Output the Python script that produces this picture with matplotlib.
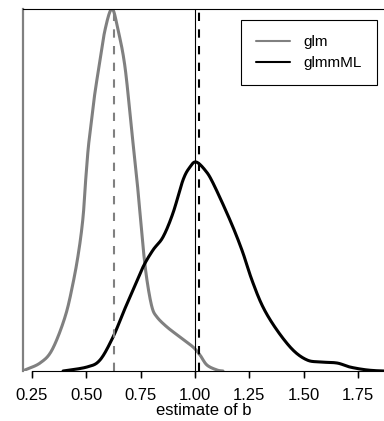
import numpy as np
import matplotlib
matplotlib.use("Agg")
import matplotlib.pyplot as plt
import matplotlib.transforms as mtransforms

plt.rcParams['font.family'] = ['Liberation Sans', 'DejaVu Sans']

# density curves (x = estimate of b, y = density)
glm_x = [0.213, 0.218, 0.287, 0.342, 0.402, 0.439, 0.466, 0.485, 0.496, 0.508,
         0.517, 0.535, 0.558, 0.586, 0.618, 0.646, 0.678, 0.710, 0.733, 0.747,
         0.761, 0.779, 0.802, 0.825, 0.871, 0.931, 0.991, 1.023, 1.055, 1.101,
         1.129]
glm_y = [0.0, 0.014, 0.108, 0.284, 0.731, 1.191, 1.638, 2.084, 2.545, 2.991,
         3.222, 3.668, 4.115, 4.616, 4.9, 4.616, 4.115, 3.222, 2.585, 2.139,
         1.678, 1.232, 0.866, 0.731, 0.596, 0.460, 0.325, 0.217, 0.081, 0.014,
         0.0]

glmm_x = [0.393, 0.503, 0.563, 0.623, 0.669, 0.715, 0.761, 0.807, 0.853, 0.899,
          0.945, 0.977, 1.005, 1.046, 1.083, 1.161, 1.216, 1.262, 1.313, 1.377,
          1.451, 1.516, 1.575, 1.654, 1.713, 1.792, 1.870, 1.95]
glmm_y = [0.0, 0.054, 0.149, 0.460, 0.785, 1.096, 1.408, 1.638, 1.814, 2.139,
          2.585, 2.761, 2.829, 2.721, 2.545, 2.044, 1.638, 1.232, 0.866, 0.555,
          0.284, 0.149, 0.122, 0.108, 0.054, 0.014, 0.0, 0.0]

glm_mean = 0.627
glmm_mean = 1.02
true_b = 1.0

tick_vals = [0.25, 0.50, 0.75, 1.00, 1.25, 1.50, 1.75]


def smooth(x, y, n=20):
    # Catmull-Rom through the read points, only for drawing
    p = np.column_stack([x, y])
    p = np.vstack([p[0], p, p[-1]])
    out = []
    t = np.linspace(0, 1, n, endpoint=False)[:, None]
    for i in range(1, len(p) - 2):
        p0, p1, p2, p3 = p[i - 1], p[i], p[i + 1], p[i + 2]
        seg = 0.5 * ((2 * p1) + (-p0 + p2) * t + (2 * p0 - 5 * p1 + 4 * p2 - p3) * t ** 2
                     + (-p0 + 3 * p1 - 3 * p2 + p3) * t ** 3)
        out.append(seg)
    out.append(p[-2][None, :])
    out = np.vstack(out)
    out[:, 1] = np.clip(out[:, 1], 0, None)
    return out[:, 0], out[:, 1]


fig = plt.figure(figsize=(3.84, 4.21), dpi=100)
ax = fig.add_axes([23 / 384, 1 - 371 / 421, 1 - 23 / 384, 362 / 421])

gx, gy = smooth(glm_x, glm_y)
mx, my = smooth(glmm_x, glmm_y)
ax.plot(gx, gy, color='#808080', lw=2.2, label='glm', solid_capstyle='round')
ax.plot(mx, my, color='black', lw=2.2, label='glmmML', solid_capstyle='round')

ax.axvline(glm_mean, color='#808080', lw=1.5, ls=(0, (4, 4)))
ax.axvline(true_b, color='black', lw=0.8)
ax.axvline(glmm_mean, color='black', lw=1.5, ls=(0, (4, 4)))

ax.set_xlim(0.2086, 1.870)
ax.set_ylim(0, 4.9)

ax.spines['right'].set_visible(False)
ax.spines['left'].set_color('#808080')
ax.spines['left'].set_linewidth(1.6)
ax.spines['top'].set_linewidth(0.8)
ax.spines['bottom'].set_linewidth(0.8)
ax.spines['bottom'].set_bounds(0.25, 1.870)

ax.set_yticks([])
ax.set_xticks(tick_vals)
ax.set_xticklabels(['%.2f' % v for v in tick_vals])
ax.tick_params(axis='x', which='major', direction='out', length=5, width=1.0, pad=7,
               labelsize=12, bottom=True, top=False, color='black')
ax.set_xlabel('estimate of b', fontsize=12, labelpad=0)

# tick marks drawn again below the axis line, so they always show
trans = mtransforms.blended_transform_factory(ax.transData, ax.transAxes)
ax.vlines(tick_vals, -6 / 362, 0, transform=trans, colors='black', lw=0.9, clip_on=False)

leg = ax.legend(loc='upper right', bbox_to_anchor=(377 / 384, 1 - 20 / 421),
                bbox_transform=fig.transFigure, fontsize=11, frameon=True,
                fancybox=False, edgecolor='black', framealpha=1,
                handlelength=2.2, handletextpad=0.9, labelspacing=0.45,
                borderpad=1.0, borderaxespad=0)
leg.get_frame().set_linewidth(0.8)
for h in leg.get_lines():
    h.set_linewidth(1.5)

fig.savefig('out.png', dpi=100)
